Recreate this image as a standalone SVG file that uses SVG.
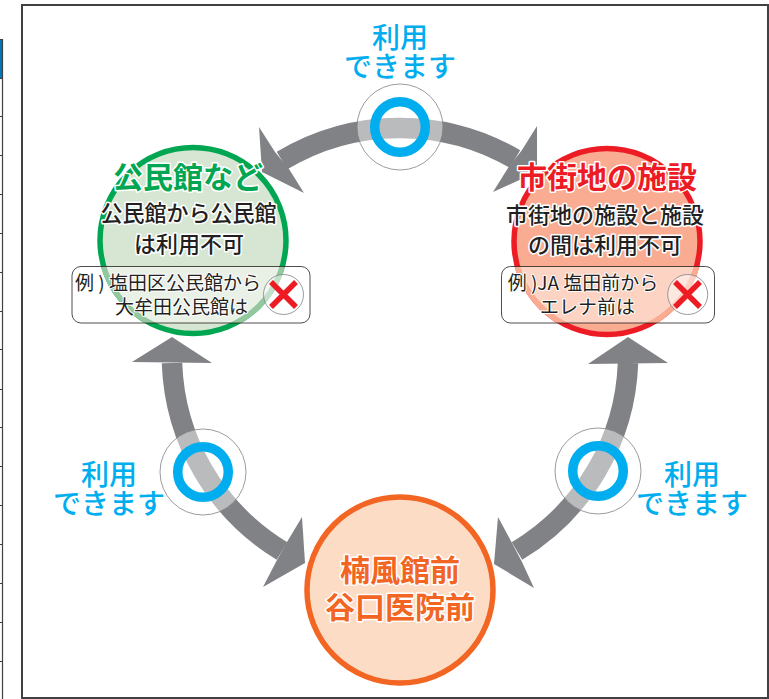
<svg xmlns="http://www.w3.org/2000/svg" width="769" height="699" viewBox="0 0 769 699">
<style>
text{font-family:"Noto Sans CJK JP","Noto Sans",sans-serif;text-anchor:middle;font-weight:500;paint-order:stroke;stroke-linejoin:round}
.title{font-size:30px;font-weight:700;stroke:#fff;stroke-width:3px}
.sub{font-size:22px;fill:#231f20;stroke:#fff;stroke-width:3px}
.ex{font-size:19px;font-weight:400;fill:#231f20;stroke:#fff;stroke-width:2px}
.ok{font-size:28px;font-weight:500;fill:#00aeef}
.band{fill:none;stroke:#808285;stroke-width:20.500}
.head{fill:#808285}
.halo{fill:#fff;fill-opacity:.46;stroke:#808285;stroke-width:.8}
.ring{fill:none;stroke:#00aeef;stroke-width:9.500}
.box{fill:none;stroke:#231f20;stroke-width:.8}
.no{fill:#fff;fill-opacity:.45;stroke:#808285;stroke-width:.8}
.x{fill:none;stroke:#ed1c24;stroke-width:5.500}
.tbl{stroke:#414042;stroke-width:1;fill:none}
</style>
<defs>
<clipPath id="clip-green"><rect x="72" y="266.500" width="238" height="56.500" rx="9"/></clipPath>
<clipPath id="clip-red"><rect x="501.500" y="266.500" width="213" height="56.500" rx="9"/></clipPath>
</defs>
<g id="page-edge">
<rect x="0" y="39" width="2.500" height="39" fill="#0078b8"/>
<path class="tbl" d="M0 39.500H3M0 78.500H3M0 116.500H3M0 155.500H3M0 194.500H3M0 233.500H3M0 272.500H3M0 311.500H3M0 349.500H3M0 389.500H3M0 427.500H3M0 466.500H3M0 505.500H3M0 544.500H3M0 583.500H3M0 622.500H3M0 661.500H3"/>
<path d="M2.500 39V699" stroke="#414042" stroke-width="1.200" fill="none"/>
</g>
<rect id="frame" x="22" y="5" width="746" height="693" fill="#fff" stroke="#414042" stroke-width="2"/>
<g id="connectors">
<path class="band" d="M282 160.500A229 229 0 0 1 515 159"/>
<polygon class="head" points="259,127 275,152 289,169 304,193 262,172"/>
<polygon class="head" points="537,126 522,150 508,168 493,192 537,172"/>
<path class="band" d="M172 363A229 229 0 0 0 282 551"/>
<polygon class="head" points="172,337 132,362 212,363"/>
<polygon class="head" points="302,517 287,542 277,560 263,587 305,563"/>
<path class="band" d="M628 363A229 229 0 0 1 517 551"/>
<polygon class="head" points="628,337 588,364 668,363"/>
<polygon class="head" points="498,517 512,543 522,562 534,588 494,564"/>
</g>
<g id="node-kominkan">
<circle cx="193" cy="240.500" r="93" fill="#d7e6d3" stroke="#00a651" stroke-width="5.500"/>
<circle cx="193" cy="240.500" r="93" fill="#e9f0e6" stroke="#93c89e" stroke-width="5.500" clip-path="url(#clip-green)"/>
<text class="title" x="188" y="188" fill="#00a651">公民館など</text>
<text class="sub" x="188.500" y="221">公民館から公民館</text>
<text class="sub" x="189" y="252">は利用不可</text>
<rect class="box" x="72" y="266.500" width="238" height="56.500" rx="9"/>
<text class="ex" x="168" y="290">例 ) 塩田区公民館から</text>
<text class="ex" x="181.500" y="314">大牟田公民館は</text>
<circle class="no" cx="283.500" cy="294.500" r="20"/>
<path class="x" d="M271 282L296 307M296 282L271 307"/>
</g>
<g id="node-shigaichi">
<circle cx="607" cy="241.500" r="93" fill="#f9ac92" stroke="#ed1c24" stroke-width="5.500"/>
<circle cx="607" cy="241.500" r="93" fill="#fdd3c3" stroke="#f9ac92" stroke-width="5.500" clip-path="url(#clip-red)"/>
<text class="title" x="607" y="188" fill="#ed1c24">市街地の施設</text>
<text class="sub" x="605" y="223">市街地の施設と施設</text>
<text class="sub" x="605" y="253">の間は利用不可</text>
<rect class="box" x="501.500" y="266.500" width="213" height="56.500" rx="9"/>
<text class="ex" x="583" y="290">例 )JA 塩田前から</text>
<text class="ex" x="587.500" y="314">エレナ前は</text>
<circle class="no" cx="687.700" cy="294.500" r="20"/>
<path class="x" d="M675 282L700 307M700 282L675 307"/>
</g>
<g id="node-kusu">
<circle cx="400" cy="590" r="93" fill="#fddcc6" stroke="#f26522" stroke-width="5.500"/>
<text class="title" x="400" y="581" fill="#f26522">楠風館前<tspan x="400" dy="37">谷口医院前</tspan></text>
</g>
<g id="ok-top">
<circle class="halo" cx="400" cy="127" r="43"/>
<circle class="ring" cx="400" cy="127" r="25.300"/>
<text class="ok" x="400" y="47.500">利用<tspan x="400" dy="29">できます</tspan></text>
</g>
<g id="ok-left">
<circle class="halo" cx="203" cy="472" r="43"/>
<circle class="ring" cx="203" cy="472" r="25.300"/>
<text class="ok" x="109" y="484.500">利用<tspan x="109" dy="29">できます</tspan></text>
</g>
<g id="ok-right">
<circle class="halo" cx="598" cy="471" r="43"/>
<circle class="ring" cx="598" cy="471" r="25.300"/>
<text class="ok" x="692" y="484.500">利用<tspan x="692" dy="29">できます</tspan></text>
</g>
</svg>
